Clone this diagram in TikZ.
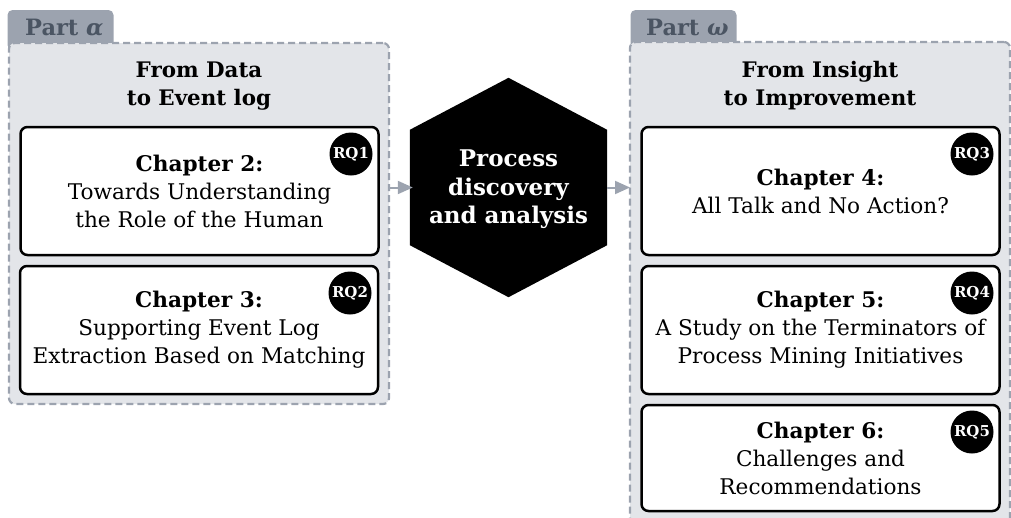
\documentclass[tikz,border=0pt]{standalone}
\usepackage{fontspec}
\setmainfont{DejaVu Serif}
\usetikzlibrary{arrows.meta,calc}
\definecolor{contfill}{HTML}{E3E5E9}
\definecolor{contline}{HTML}{9CA3AF}
\definecolor{tabtext}{HTML}{4B5563}
\begin{document}
\begin{tikzpicture}[x=1pt,y=-1pt,
  container/.style={draw=contline, fill=contfill, line width=2.2pt, dash pattern=on 7pt off 4pt, rounded corners=6pt, minimum width=380pt, inner sep=0pt, outer sep=0pt},
  tabbox/.style={fill=contline, rounded corners=5pt, inner sep=0pt, outer sep=0pt, minimum width=106pt, minimum height=40pt},
  tabtxt/.style={text=tabtext, font=\fontsize{22.5}{26}\selectfont\bfseries, anchor=base west, inner sep=0pt},
  title/.style={font=\fontsize{21.4}{28}\selectfont\bfseries, align=center, inner sep=0pt},
  chapbox/.style={draw=black, fill=white, line width=2.5pt, rounded corners=7pt, minimum width=358pt, inner sep=0pt, outer sep=0pt, align=center, font=\fontsize{21.6}{28}\selectfont},
  rq/.style={circle, fill=black, text=white, minimum size=43pt, inner sep=0pt, font=\fontsize{15}{17}\selectfont\bfseries},
  hextxt/.style={text=white, font=\fontsize{23}{28.5}\selectfont\bfseries, align=center, inner sep=0pt, minimum width=197pt, minimum height=115pt},
  arr/.style={draw=contline, line width=2pt, -{Triangle[length=15pt,width=13pt]}}
]
\useasboundingbox (0,0) rectangle (1011,517);
\clip (0,0) rectangle (1011,517);
% Part alpha
\node[tabbox] (tabA) at (60.5,30) {};
\node[container, minimum height=361pt] (partA) at (199,223.5) {};
\node[tabtxt] (tabAt) at (25,35) {Part \textit{α}};
\node[title] (titA) at (199,86) {From Data\\to Event log};
\node[chapbox, minimum height=128pt] (c2) at (199.5,191) {\textbf{Chapter 2:}\\Towards Understanding\\the Role of the Human};
\node[chapbox, minimum height=128pt] (c3) at (199,330) {\textbf{Chapter 3:}\\Supporting Event Log\\Extraction Based on Matching};
\node[rq] (rq1) at (351,154) {RQ1};
\node[rq] (rq2) at (350,293) {RQ2};
% hexagon
\node[hextxt] (hex) at (508.5,187.5) {};
\fill[black] ($(hex.north)+(0,-52)$) -- (hex.north east) -- (hex.south east) -- ($(hex.south)+(0,52)$) -- (hex.south west) -- (hex.north west) -- cycle;
\node[hextxt] (hexlabel) at (508.5,189.5) {Process\\discovery\\and analysis};
% Part omega
\node[tabbox] (tabB) at (683.5,30) {};
\node[container, minimum height=520pt] (partB) at (820,302) {};
\node[tabtxt] (tabBt) at (646,35) {Part \textit{ω}};
\node[title] (titB) at (820,86) {From Insight\\to Improvement};
\node[chapbox, minimum height=128pt] (c4) at (820.5,191) {\textbf{Chapter 4:}\\All Talk and No Action?};
\node[chapbox, minimum height=128pt] (c5) at (820.5,330) {\textbf{Chapter 5:}\\A Study on the Terminators of\\Process Mining Initiatives};
\node[chapbox, minimum height=106pt] (c6) at (820.5,458) {\textbf{Chapter 6:}\\Challenges and\\Recommendations};
\node[rq] (rq3) at (972,154) {RQ3};
\node[rq] (rq4) at (972,293) {RQ4};
\node[rq] (rq5) at (972,432) {RQ5};
% arrows
\draw[arr] (partA.east |- hex.west) -- ([xshift=3pt]hex.west);
\draw[arr] (hex.east) -- (partB.west |- hex.east);
\end{tikzpicture}
\end{document}
